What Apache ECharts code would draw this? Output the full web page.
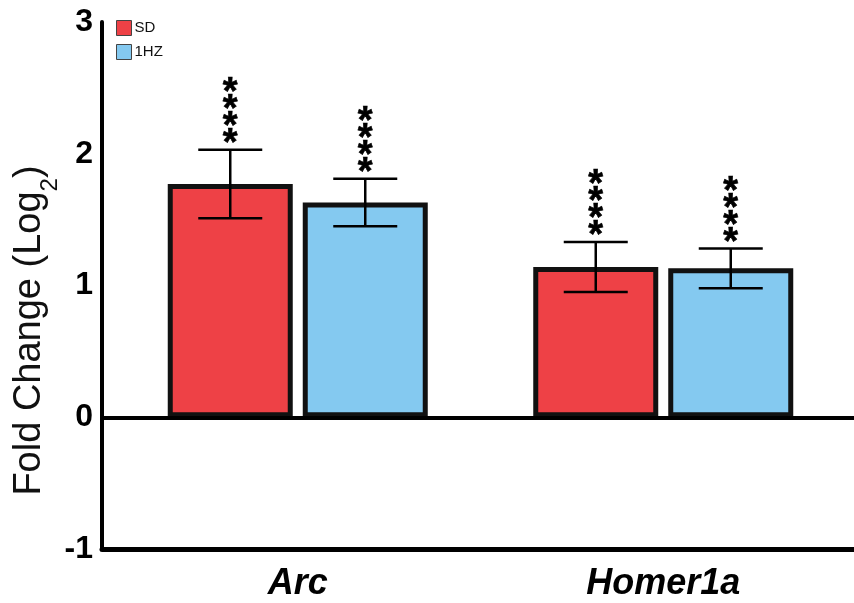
<!DOCTYPE html>
<html>
<head>
<meta charset="utf-8">
<script src="https://cdn.jsdelivr.net/npm/echarts@6/dist/echarts.min.js"></script>
<style>
html,body{margin:0;padding:0;background:#fff;}
#chart{width:854px;height:603px;}
</style>
</head>
<body>
<div id="chart"></div>
<script>
// ---- data ----
var categories = ['Arc', 'Homer1a'];
var seriesNames = ['SD', '1HZ'];
var sdMean = [1.77, 1.14];
var sdErr = [0.26, 0.19];
var hzMean = [1.63, 1.13];
var hzErr = [0.18, 0.15];
var sdSig = ['****', '****'];
var hzSig = ['****', '****'];
var yTicks = [-1, 0, 1, 2, 3];

// ---- style ----
var FONT = 'Liberation Sans, Arial, Helvetica, sans-serif';
var RED = '#ee4146';
var BLUE = '#84c9f0';
var BAR_W = 125;
var BAR_GAP_PX = 10;
var CAP_HALF = 32;

function errRenderer(offsetSign, sig) {
  return function (params, api) {
    var cat = api.value(0);
    var mean = api.value(1);
    var err = api.value(2);
    var cx = api.coord([cat, 0])[0] + offsetSign * (BAR_W + BAR_GAP_PX) / 2;
    var yTop = api.coord([cat, mean + err])[1];
    var yBot = api.coord([cat, mean - err])[1];
    var ls = { stroke: '#000', lineWidth: 2.5 };
    return {
      type: 'group',
      children: [
        { type: 'line', shape: { x1: cx, y1: yTop, x2: cx, y2: yBot }, style: ls },
        { type: 'line', shape: { x1: cx - CAP_HALF, y1: yTop, x2: cx + CAP_HALF, y2: yTop }, style: ls },
        { type: 'line', shape: { x1: cx - CAP_HALF, y1: yBot, x2: cx + CAP_HALF, y2: yBot }, style: ls },
        {
          type: 'text',
          style: {
            text: sig[params.dataIndex].split('').join('\n'),
            x: cx, y: yTop + 3,
            align: 'center', verticalAlign: 'bottom',
            font: 'bold 38px ' + FONT,
            lineHeight: 17,
            fill: '#000',
            stroke: '#000', lineWidth: 0.6
          }
        }
      ]
    };
  };
}

var chart = echarts.init(document.getElementById('chart'), null, { renderer: 'canvas' });
var option = {
  animation: false,
  backgroundColor: '#fff',
  grid: [
    { left: 102, right: 0, top: 22, bottom: 54, containLabel: false, outerBoundsMode: 'none' },
    { left: 115, right: 8, top: 22, bottom: 54, containLabel: false, outerBoundsMode: 'none' }
  ],
  legend: {
    data: seriesNames,
    orient: 'vertical',
    left: 116, top: 20, padding: 0,
    itemWidth: 15, itemHeight: 15, itemGap: 8,
    icon: 'rect',
    textStyle: { fontSize: 15, fontFamily: FONT, color: '#111', padding: [0, 0, 0, -2] },
    itemStyle: { borderColor: '#444', borderWidth: 1 }
  },
  xAxis: [
    {
      gridIndex: 0, type: 'category', data: categories,
      axisLine: { show: true, onZero: false, lineStyle: { color: '#000', width: 5 } },
      axisTick: { show: false }, axisLabel: { show: false }, splitLine: { show: false }
    },
    {
      gridIndex: 1, type: 'category', data: categories,
      axisLine: { show: false }, axisTick: { show: false },
      axisLabel: {
        show: true, margin: 17, color: '#000',
        fontSize: 36, fontWeight: 'bold', fontStyle: 'italic', fontFamily: FONT
      }
    }
  ],
  yAxis: [
    {
      gridIndex: 0, type: 'value', min: -1, max: 3, interval: 1,
      name: '{n|Fold Change (Log}{s|2}{n|)}',
      nameLocation: 'middle', nameGap: 50,
      nameMoveOverlap: false,
      nameTextStyle: {
        padding: [0, 90, 0, 0],
        rich: {
          n: { fontSize: 38, fontFamily: FONT, color: '#111', lineHeight: 44 },
          s: { fontSize: 24, fontFamily: FONT, color: '#111', lineHeight: 44, verticalAlign: 'bottom', padding: [0, 0, -10, 0] }
        }
      },
      axisLine: { show: true, lineStyle: { color: '#000', width: 4 } },
      axisTick: { show: false },
      splitLine: { show: false },
      axisLabel: {
        margin: 9, color: '#000', fontSize: 32, fontWeight: 'bold', fontFamily: FONT,
        formatter: function (v) { return yTicks.indexOf(v) >= 0 ? String(v) : ''; }
      }
    },
    {
      gridIndex: 1, type: 'value', min: -1, max: 3, interval: 1, show: false,
      splitLine: { show: false }
    }
  ],
  series: [
    {
      name: 'zero', type: 'line', xAxisIndex: 0, yAxisIndex: 0, data: [],
      silent: true,
      markLine: {
        silent: true, symbol: 'none', label: { show: false },
        lineStyle: { color: '#000', width: 4, type: 'solid' },
        data: [{ yAxis: 0 }]
      }
    },
    {
      name: seriesNames[0], type: 'bar', xAxisIndex: 1, yAxisIndex: 1,
      data: sdMean, barWidth: BAR_W, barGap: (BAR_GAP_PX / BAR_W * 100) + '%',
      itemStyle: { color: RED, borderColor: '#111', borderWidth: 5 },
      z: 2
    },
    {
      name: seriesNames[1], type: 'bar', xAxisIndex: 1, yAxisIndex: 1,
      data: hzMean, barWidth: BAR_W,
      itemStyle: { color: BLUE, borderColor: '#111', borderWidth: 5 },
      z: 2
    },
    {
      name: 'sdErr', type: 'custom', xAxisIndex: 1, yAxisIndex: 1,
      data: sdMean.map(function (m, i) { return [i, m, sdErr[i]]; }),
      encode: { x: 0, y: 1 },
      renderItem: errRenderer(-1, sdSig), z: 5, silent: true
    },
    {
      name: 'hzErr', type: 'custom', xAxisIndex: 1, yAxisIndex: 1,
      data: hzMean.map(function (m, i) { return [i, m, hzErr[i]]; }),
      encode: { x: 0, y: 1 },
      renderItem: errRenderer(1, hzSig), z: 5, silent: true
    }
  ]
};
chart.setOption(option);
</script>
</body>
</html>
